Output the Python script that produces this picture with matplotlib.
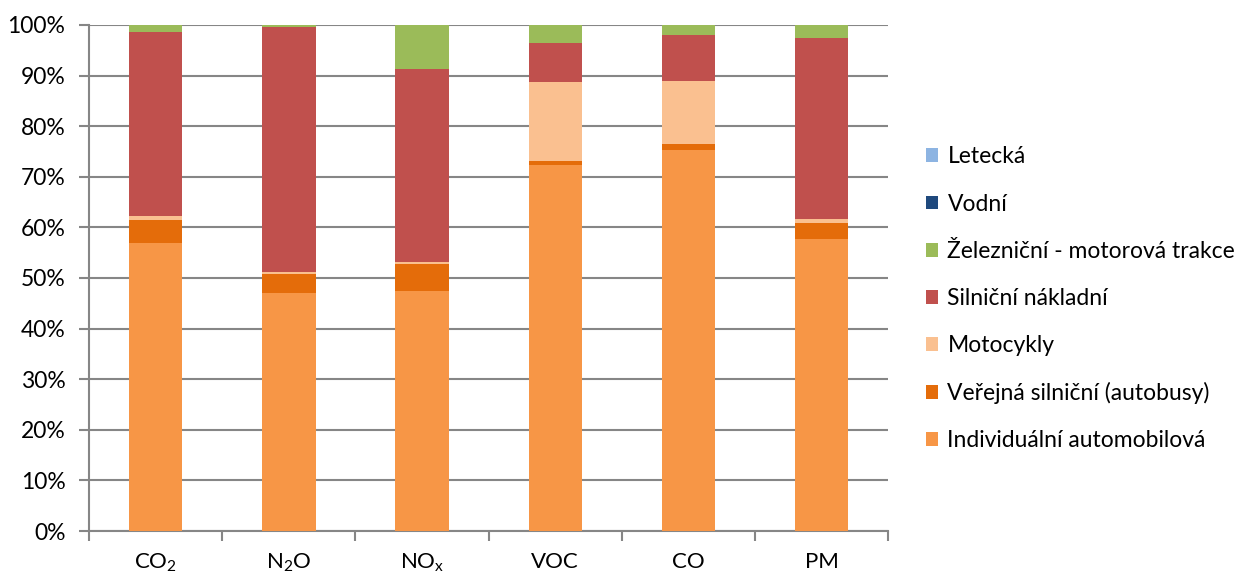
import matplotlib
matplotlib.use("Agg")
import matplotlib.pyplot as plt
from matplotlib.patches import Patch
from matplotlib.ticker import FixedLocator, PercentFormatter

plt.rcParams['font.family'] = ['Lato', 'DejaVu Sans']
plt.rcParams['mathtext.fontset'] = 'custom'
plt.rcParams['mathtext.rm'] = 'Lato'
plt.rcParams['mathtext.it'] = 'Lato:italic'

categories = [r"CO$_\mathrm{2}$", r"N$_\mathrm{2}$O", r"NO$_\mathrm{x}$", "VOC", "CO", "PM"]

# Share of each transport mode in emissions of each pollutant (%)
individualni = [57.0, 47.0, 47.4, 72.4, 75.2, 57.8]
verejna = [4.4, 3.7, 5.3, 0.8, 1.2, 3.1]
motocykly = [0.9, 0.5, 0.5, 15.5, 12.5, 0.7]
silnicni_nakladni = [36.4, 48.5, 38.2, 7.8, 9.1, 35.9]
zeleznicni = [1.3, 0.3, 8.6, 3.5, 2.0, 2.5]
vodni = [0.0, 0.0, 0.0, 0.0, 0.0, 0.0]
letecka = [0.0, 0.0, 0.0, 0.0, 0.0, 0.0]

series = [
    ("Individuální automobilová", individualni, "#F79646"),
    ("Veřejná silniční (autobusy)", verejna, "#E46C0A"),
    ("Motocykly", motocykly, "#FAC090"),
    ("Silniční nákladní", silnicni_nakladni, "#C0504D"),
    ("Železniční - motorová trakce", zeleznicni, "#9BBB59"),
    ("Vodní", vodni, "#1F497D"),
    ("Letecká", letecka, "#8DB4E2"),
]

fig = plt.figure(figsize=(12.47, 5.77), dpi=100)
ax = fig.add_axes([0.0714, 0.0797, 0.641, 0.877])

x = list(range(len(categories)))
bottom = [0.0] * len(categories)
for name, vals, color in series:
    ax.bar(x, vals, width=0.4, bottom=bottom, color=color, linewidth=0, zorder=3)
    bottom = [b + v for b, v in zip(bottom, vals)]

grey = "#868686"
ax.set_xlim(-0.5, len(categories) - 0.5)
ax.set_ylim(0, 100)
ax.yaxis.set_major_locator(FixedLocator(range(0, 101, 10)))
ax.yaxis.set_major_formatter(PercentFormatter(decimals=0))
ax.grid(axis="y", color=grey, linewidth=1.5, zorder=0)
ax.set_axisbelow(True)

ax.set_xticks(x)
ax.set_xticklabels(categories)
ax.set_xticks([i - 0.5 for i in range(len(categories) + 1)], minor=True)
ax.tick_params(axis="x", which="major", length=0, pad=15, labelsize=16, colors="#000000")
ax.tick_params(axis="x", which="minor", length=7, width=1.5, color=grey, direction="out")
ax.tick_params(axis="y", length=7, width=1.5, color=grey, pad=10, labelsize=16.5)

for side in ("top", "right"):
    ax.spines[side].set_visible(False)
for side in ("left", "bottom"):
    ax.spines[side].set_color(grey)
    ax.spines[side].set_linewidth(1.5)

handles = [Patch(facecolor=c, edgecolor="none", label=n) for n, _, c in reversed(series)]
leg = fig.legend(handles=handles, loc="upper left", bbox_to_anchor=(0.735, 0.762),
                 frameon=False, fontsize=16.5, handlelength=0.55, handleheight=0.55,
                 handletextpad=0.4, labelspacing=1.14, borderaxespad=0)

fig.savefig("out.png", dpi=100)
